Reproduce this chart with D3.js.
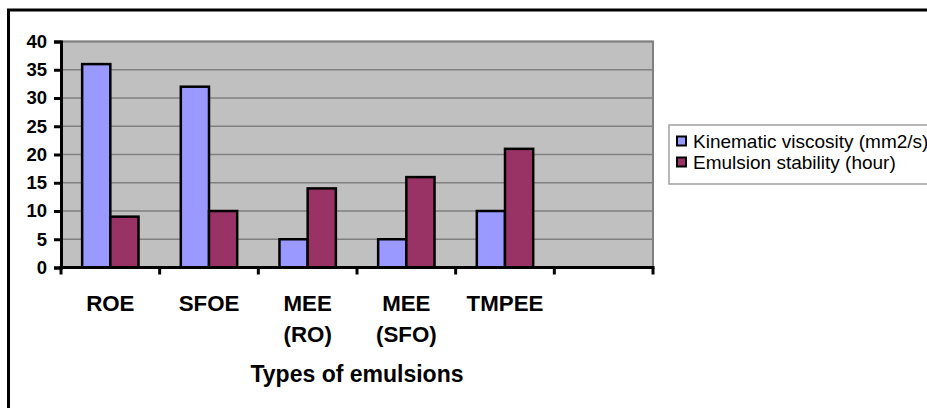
<!DOCTYPE html>
<html><head><meta charset="utf-8">
<script src="https://cdn.jsdelivr.net/npm/d3@7"></script>
<style>html,body{margin:0;padding:0;background:#fff;}svg{display:block;}</style>
</head><body>
<script>
const categories = ["ROE", "SFOE", "MEE\n(RO)", "MEE\n(SFO)", "TMPEE", ""];
const kinematicViscosity = [36, 32, 5, 5, 10, null];
const emulsionStability = [9, 10, 14, 16, 21, null];
const seriesNames = ["Kinematic viscosity (mm2/s)", "Emulsion stability (hour)"];
const yTicks = [0, 5, 10, 15, 20, 25, 30, 35, 40];
const xTitle = "Types of emulsions";

const W = 927, H = 408;
const svg = d3.select("body").append("svg").attr("width", W).attr("height", H);
const font = "Liberation Sans, Arial, sans-serif";

// outer border
svg.append("rect").attr("x", 8.5).attr("y", 10).attr("width", 940).attr("height", 420)
  .attr("fill", "#fff").attr("stroke", "#000").attr("stroke-width", 3);

const plot = {left: 61, right: 653, top: 41.5, bottom: 267.5};
const x = d3.scaleBand().domain(d3.range(categories.length)).range([plot.left, plot.right]).paddingInner(0).paddingOuter(0);
const y = d3.scaleLinear().domain([0, 40]).range([plot.bottom, plot.top]);

// plot background
svg.append("rect").attr("x", plot.left).attr("y", plot.top).attr("width", plot.right - plot.left)
  .attr("height", plot.bottom - plot.top).attr("fill", "#c0c0c0").attr("stroke", "#808080").attr("stroke-width", 2);

// gridlines
svg.append("g").selectAll("line").data(yTicks.filter(d => d > 0)).join("line")
  .attr("x1", plot.left).attr("x2", plot.right).attr("y1", d => y(d)).attr("y2", d => y(d))
  .attr("stroke", "#808080").attr("stroke-width", 1.5);

// bars
const inner = d3.scaleBand().domain([0, 1]).range([0, x.bandwidth()]).paddingInner(0).paddingOuter(0.75);
const data = [];
categories.forEach((c, i) => {
  [kinematicViscosity[i], emulsionStability[i]].forEach((v, s) => { if (v != null) data.push({i, s, v}); });
});
const colors = ["#9999ff", "#993366"];
svg.append("g").selectAll("rect").data(data).join("rect")
  .attr("x", d => x(d.i) + inner(d.s)).attr("width", inner.bandwidth())
  .attr("y", d => y(d.v)).attr("height", d => y(0) - y(d.v))
  .attr("fill", d => colors[d.s]).attr("stroke", "#000").attr("stroke-width", 2.5);

// y axis
const yAxis = d3.axisLeft(y).tickValues(yTicks).tickSize(7).tickPadding(7);
const yg = svg.append("g").attr("transform", `translate(${plot.left},0)`).call(yAxis);
yg.select(".domain").attr("stroke", "#000").attr("stroke-width", 3);
yg.selectAll(".tick line").attr("stroke", "#000").attr("stroke-width", 3);
yg.selectAll("text").attr("font-family", font).attr("font-size", 18.5).attr("font-weight", "bold").attr("fill", "#000");

// x axis
const xg = svg.append("g");
xg.append("line").attr("x1", plot.left - 1.5).attr("x2", plot.right + 1.5).attr("y1", plot.bottom).attr("y2", plot.bottom)
  .attr("stroke", "#000").attr("stroke-width", 3);
const bounds = categories.map((c, i) => x(i)).concat([plot.right]);
xg.selectAll("line.t").data(bounds).join("line").attr("class", "t")
  .attr("x1", d => d).attr("x2", d => d).attr("y1", plot.bottom).attr("y2", plot.bottom + 7)
  .attr("stroke", "#000").attr("stroke-width", 3);
categories.forEach((c, i) => {
  const t = xg.append("text").attr("x", x(i) + x.bandwidth() / 2).attr("y", 311)
    .attr("text-anchor", "middle").attr("font-family", font).attr("font-size", 22.3).attr("font-weight", "bold");
  c.split("\n").forEach((line, k) => {
    t.append("tspan").attr("x", x(i) + x.bandwidth() / 2).attr("dy", k === 0 ? 0 : 31).text(line);
  });
});
svg.append("text").attr("x", (plot.left + plot.right) / 2).attr("y", 382).attr("text-anchor", "middle")
  .attr("font-family", font).attr("font-size", 23).attr("font-weight", "bold").text(xTitle);

// legend
const lg = svg.append("g");
lg.append("rect").attr("x", 669).attr("y", 125).attr("width", 300).attr("height", 59)
  .attr("fill", "#fff").attr("stroke", "#a0a0a0").attr("stroke-width", 1.5);
seriesNames.forEach((n, s) => {
  const cy = 141 + s * 21;
  lg.append("rect").attr("x", 677).attr("y", cy - 4.5).attr("width", 9).attr("height", 9)
    .attr("fill", colors[s]).attr("stroke", "#000").attr("stroke-width", 2);
  lg.append("text").attr("x", 693).attr("y", cy).attr("dy", "0.35em")
    .attr("font-family", font).attr("font-size", 19).attr("fill", "#000").text(n);
});
</script>
</body></html>
